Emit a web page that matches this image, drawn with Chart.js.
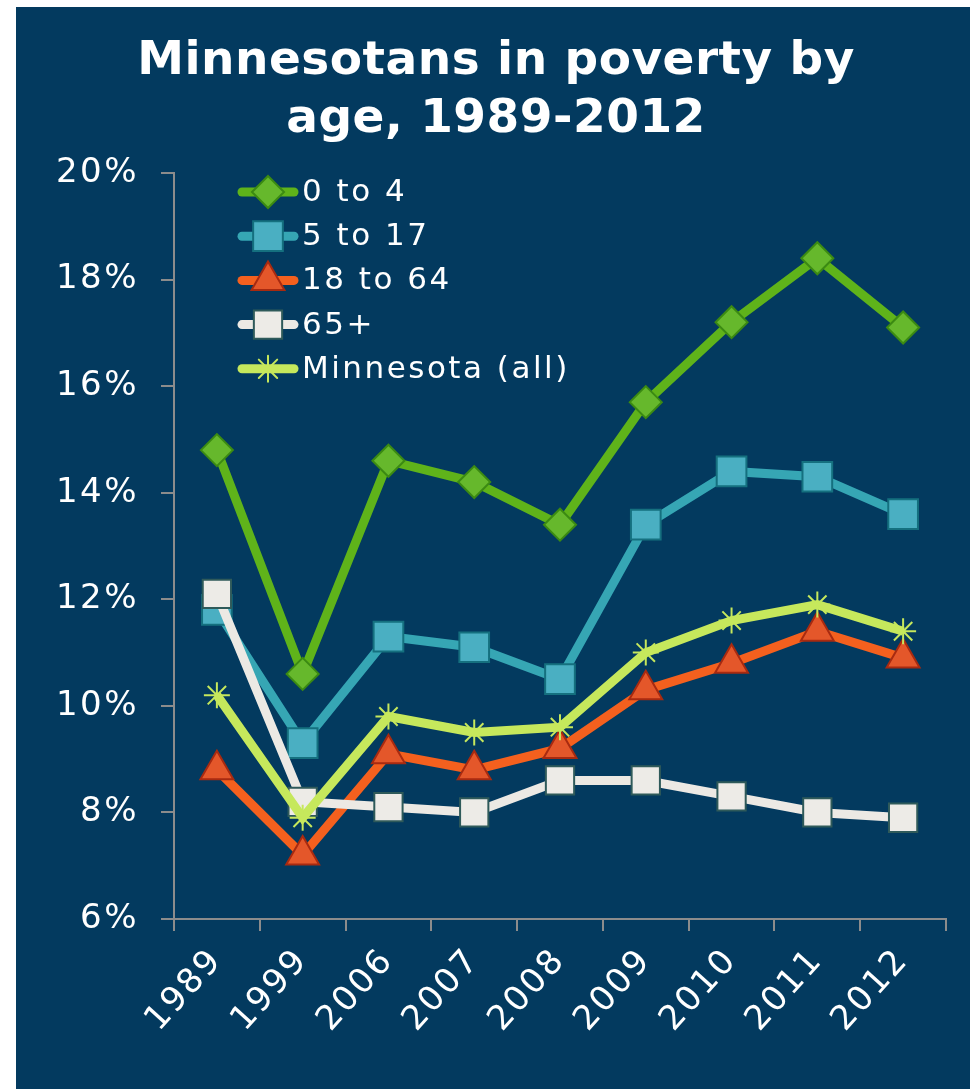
<!DOCTYPE html>
<html>
<head>
<meta charset="utf-8">
<script src="https://cdn.jsdelivr.net/npm/chart.js@4.4.0/dist/chart.umd.min.js"></script>
<style>
    html, body { margin: 0; padding: 0; background: #ffffff; }
    #panel { position: absolute; left: 16px; top: 7px; width: 954px; height: 1082px; background: #033a5f; }
    #povertyChart { display: block; }
</style>
</head>
<body>
<div id="panel"><canvas id="povertyChart" width="954" height="1082"></canvas></div>
<script>
// Dados (percentual em pobreza)
const years = ['1989', '1999', '2006', '2007', '2008', '2009', '2010', '2011', '2012'];
const seriesNames = ['0 to 4', '5 to 17', '18 to 64', '65+', 'Minnesota (all)'];
const age0to4 = [14.8, 10.6, 14.6, 14.2, 13.4, 15.7, 17.2, 18.4, 17.1];
const age5to17 = [11.8, 9.3, 11.3, 11.1, 10.5, 13.4, 14.4, 14.3, 13.6];
const age18to64 = [8.8, 7.2, 9.1, 8.8, 9.2, 10.3, 10.8, 11.4, 10.9];
const age65plus = [12.1, 8.2, 8.1, 8.0, 8.6, 8.6, 8.3, 8.0, 7.9];
const allMinnesota = [10.2, 7.9, 9.8, 9.5, 9.6, 11.0, 11.6, 11.9, 11.4];
const yTicks = [6, 8, 10, 12, 14, 16, 18, 20];

const FONT = '"DejaVu Sans", Verdana, sans-serif';
const AXIS = '#8c8c8c';

// Legenda desenhada dentro da área do gráfico
const insideLegend = {
    id: 'insideLegend',
    afterInit(chart) {
        const title = chart.titleBlock;
        if (title) {
            const orig = title.draw.bind(title);
            title.draw = function () {
                const c = chart.ctx;
                const prev = c.letterSpacing;
                c.letterSpacing = '0.5px';
                orig();
                c.letterSpacing = prev;
            };
        }
    },
    beforeDraw(chart) {
        chart.ctx.letterSpacing = '2.5px';
    },
    afterDraw(chart) {
        const { ctx, chartArea } = chart;
        ctx.save();
        ctx.font = '31px ' + FONT;
        ctx.letterSpacing = '2.5px';
        ctx.textBaseline = 'middle';
        ctx.textAlign = 'left';
        chart.data.datasets.forEach((ds, i) => {
            const y = chartArea.top + 19 + i * 44.2;
            const x0 = chartArea.left + 64;
            ctx.lineCap = 'round';
            ctx.strokeStyle = ds.borderColor;
            ctx.lineWidth = ds.borderWidth;
            ctx.beginPath();
            ctx.moveTo(x0 + 4, y);
            ctx.lineTo(x0 + 56, y);
            ctx.stroke();
            ctx.fillStyle = ds.pointBackgroundColor;
            ctx.strokeStyle = ds.pointBorderColor;
            ctx.lineWidth = ds.pointBorderWidth;
            Chart.helpers.drawPoint(ctx, {
                pointStyle: ds.pointStyle,
                radius: ds.pointRadius,
                borderWidth: ds.pointBorderWidth,
                rotation: 0
            }, x0 + 30, y);
            ctx.fillStyle = '#ffffff';
            ctx.fillText(ds.label, chartArea.left + 128, y + 1);
        });
        ctx.restore();
    }
};

function lineSeries(label, data, color, style, radius, fill, border, order) {
    return {
        label: label,
        data: data,
        borderColor: color,
        borderWidth: 9,
        pointStyle: style,
        pointRadius: radius,
        pointHoverRadius: radius,
        pointBackgroundColor: fill,
        pointBorderColor: border,
        pointBorderWidth: 2,
        tension: 0,
        order: order
    };
}

new Chart(document.getElementById('povertyChart'), {
    type: 'line',
    data: {
        labels: years,
        datasets: [
            lineSeries(seriesNames[0], age0to4, '#5fb31a', 'rectRot', 16, '#66b82c', '#3b8a12', 5),
            lineSeries(seriesNames[1], age5to17, '#36a6b4', 'rect', 21, '#4aafc2', '#15707f', 4),
            lineSeries(seriesNames[2], age18to64, '#f4601e', 'triangle', 19, '#e4572a', '#a82a10', 3),
            lineSeries(seriesNames[3], age65plus, '#ece9e4', 'rect', 20, '#edebe7', '#2f5a5a', 2),
            lineSeries(seriesNames[4], allMinnesota, '#c6e85c', 'star', 13, '#c6e85c', '#c6e85c', 1)
        ]
    },
    options: {
        responsive: false,
        devicePixelRatio: 1,
        animation: false,
        layout: { padding: { left: 30, right: 24, top: 0, bottom: 0 } },
        plugins: {
            legend: { display: false },
            tooltip: { enabled: false },
            title: {
                display: true,
                text: ['Minnesotans in poverty by', 'age, 1989-2012'],
                color: '#ffffff',
                font: { family: FONT, size: 47, weight: 'bold', lineHeight: 1.234 },
                padding: { top: 26, bottom: 24 }
            }
        },
        scales: {
            x: {
                offset: true,
                grid: { offset: true, drawOnChartArea: false, drawTicks: true, tickLength: 12, color: AXIS, lineWidth: 2 },
                border: { color: AXIS, width: 2 },
                ticks: { color: '#ffffff', font: { family: FONT, size: 34 }, minRotation: 48, maxRotation: 48, padding: 10 },
                afterFit: (scale) => { scale.height = 170; }
            },
            y: {
                min: 6,
                max: 20,
                afterBuildTicks: (scale) => { scale.ticks = yTicks.map(v => ({ value: v })); },
                grid: { drawOnChartArea: false, drawTicks: true, tickLength: 13, color: AXIS, lineWidth: 2 },
                border: { color: AXIS, width: 2 },
                ticks: { color: '#ffffff', font: { family: FONT, size: 34 }, padding: 22, callback: (v) => v + '%' },
                afterFit: (scale) => { scale.width = 128; }
            }
        }
    },
    plugins: [insideLegend]
});
</script>
</body>
</html>
